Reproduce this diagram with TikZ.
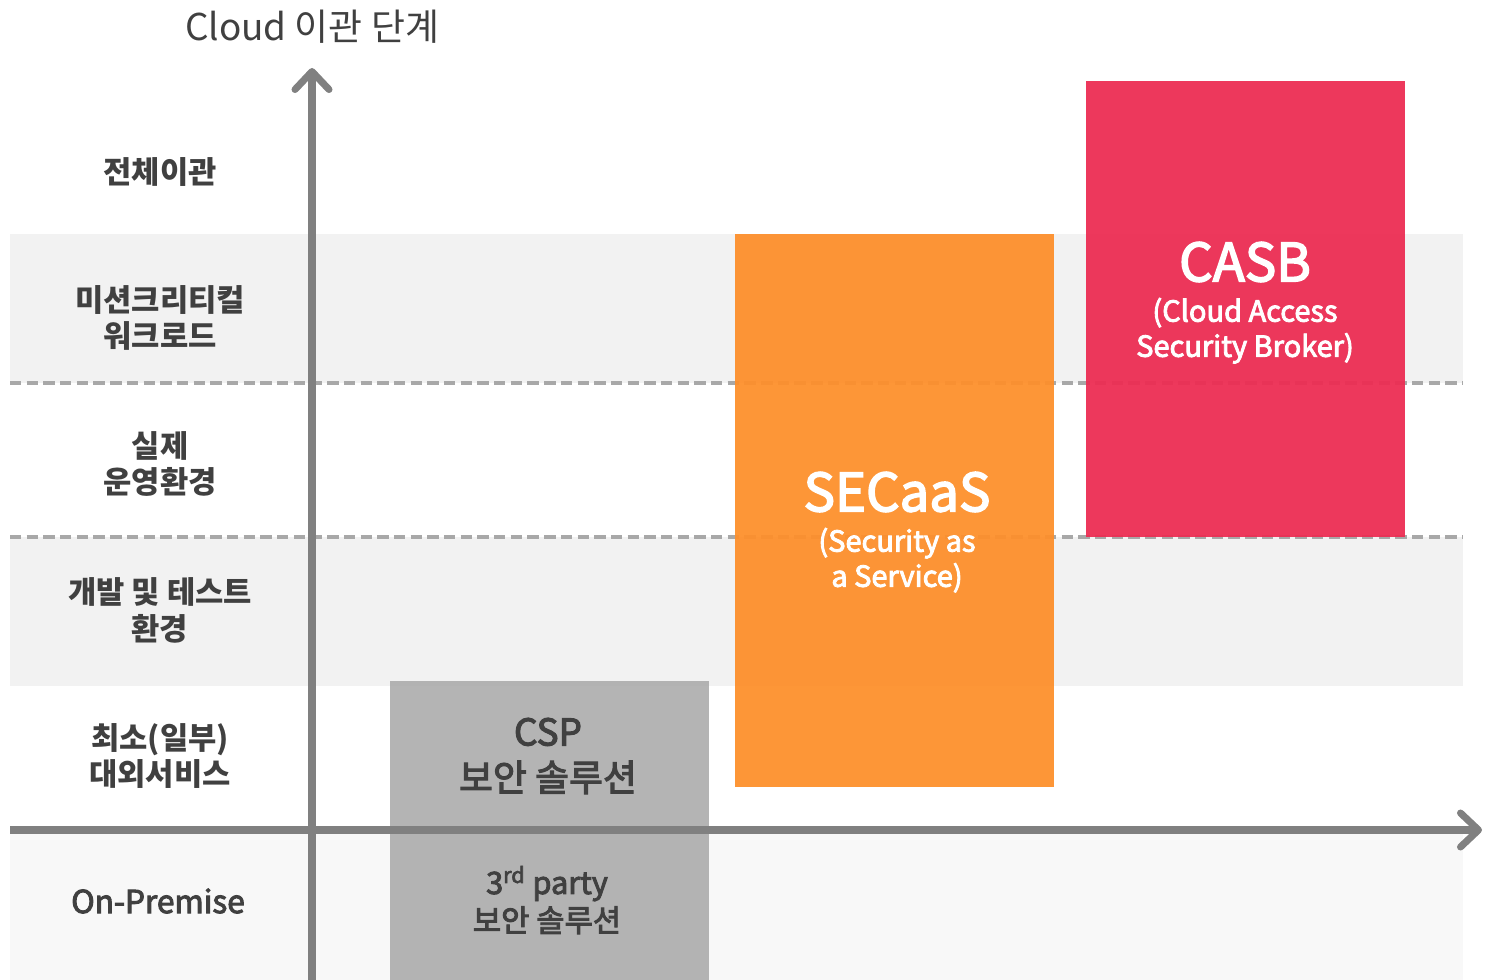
\documentclass[tikz,border=0pt]{standalone}
\usepackage{fontspec}
\setmainfont{Noto Sans CJK KR}
\newfontfamily\medfont{Noto Sans CJK KR}[FakeBold=3]
\usetikzlibrary{arrows.meta, positioning}

\definecolor{textgray}{HTML}{404040}
\definecolor{bandgray}{HTML}{F2F2F2}
\definecolor{basegray}{HTML}{F8F8F8}
\definecolor{dashgray}{HTML}{A8A8A8}
\definecolor{axisgray}{HTML}{808080}
\definecolor{cspgray}{HTML}{AFAFAF}
\definecolor{secorange}{HTML}{FD8F2B}
\definecolor{casbred}{HTML}{EC2C52}

\begin{document}
\begin{tikzpicture}[
    x=0.02cm, y=-0.02cm,
    band/.style={fill=bandgray},
    level/.style={font=\bfseries\fontsize{17.5}{21}\selectfont, text=textgray, align=center},
    block/.style={rectangle, anchor=north west, inner sep=0pt, minimum width=6.38cm, fill opacity=0.94},
    title/.style={font=\medfont\fontsize{30}{34}\selectfont, text=white},
    sub/.style={font=\medfont\fontsize{16.5}{20}\selectfont, text=white, align=center},
    divider/.style={dashgray, line width=2pt, dash pattern=on 6.5pt off 3pt},
    axis/.style={axisgray, line width=4pt, -{Straight Barb[length=0.36cm, width=0.68cm, round]}}
]

\useasboundingbox (0,0) rectangle (1485,980);

% Background bands
\fill[band] (10,234) rectangle (1463,383);
\fill[band] (10,537) rectangle (1463,686);
\fill[basegray] (10,830) rectangle (1463,980);

% Dividers
\draw[divider] (10,383) -- (1463,383);
\draw[divider] (10,537) -- (1463,537);

% Levels
\node[level] (lvl_full) at (160,172) {전체이관};
\node[level] (lvl_mission) at (160,318) {미션크리티컬\\워크로드};
\node[level] (lvl_prod) at (160,464) {실제\\운영환경};
\node[level] (lvl_dev) at (160,610) {개발 및 테스트\\환경};
\node[level] (lvl_min) at (160,756) {최소(일부)\\대외서비스};
\node[font=\medfont\fontsize{18}{20}\selectfont, text=textgray] (lvl_onprem) at (158,901) {On-Premise};

% Solution blocks
\node[block, fill=cspgray, minimum height=5.98cm] (csp) at (390,681) {};
\node[block, fill=secorange, minimum height=11.06cm] (secaas) at (735,234) {};
\node[block, fill=casbred, minimum height=9.12cm] (casb) at (1086,81) {};

% Block texts
\node[font=\medfont\fontsize{21}{26}\selectfont, text=textgray, align=center] (csp_txt) at (548,756) {CSP\\보안 솔루션};
\node[font=\medfont\fontsize{17.5}{21.5}\selectfont, text=textgray, align=center] (party_txt) at (547,900) {3\textsuperscript{rd} party\\보안 솔루션};
\node[title] (secaas_txt) at (897,492) {SECaaS};
\node[sub, below=2pt of secaas_txt] (secaas_sub) {(Security as\\a Service)};
\node[title] (casb_txt) at (1245,262) {CASB};
\node[sub, below=2pt of casb_txt] (casb_sub) {(Cloud Access\\Security Broker)};

% Axes
\coordinate (ybase) at (312,980);
\coordinate (ytip) at (312,68);
\coordinate (xbase) at (10,830);
\coordinate (xtip) at (1482,830);
\draw[axis] (ybase) -- (ytip);
\draw[axis] (xbase) -- (xtip);

% Axis title
\node[font=\fontsize{21}{24}\selectfont, text=textgray] (ytitle) at (312,27) {Cloud 이관 단계};

\end{tikzpicture}
\end{document}
